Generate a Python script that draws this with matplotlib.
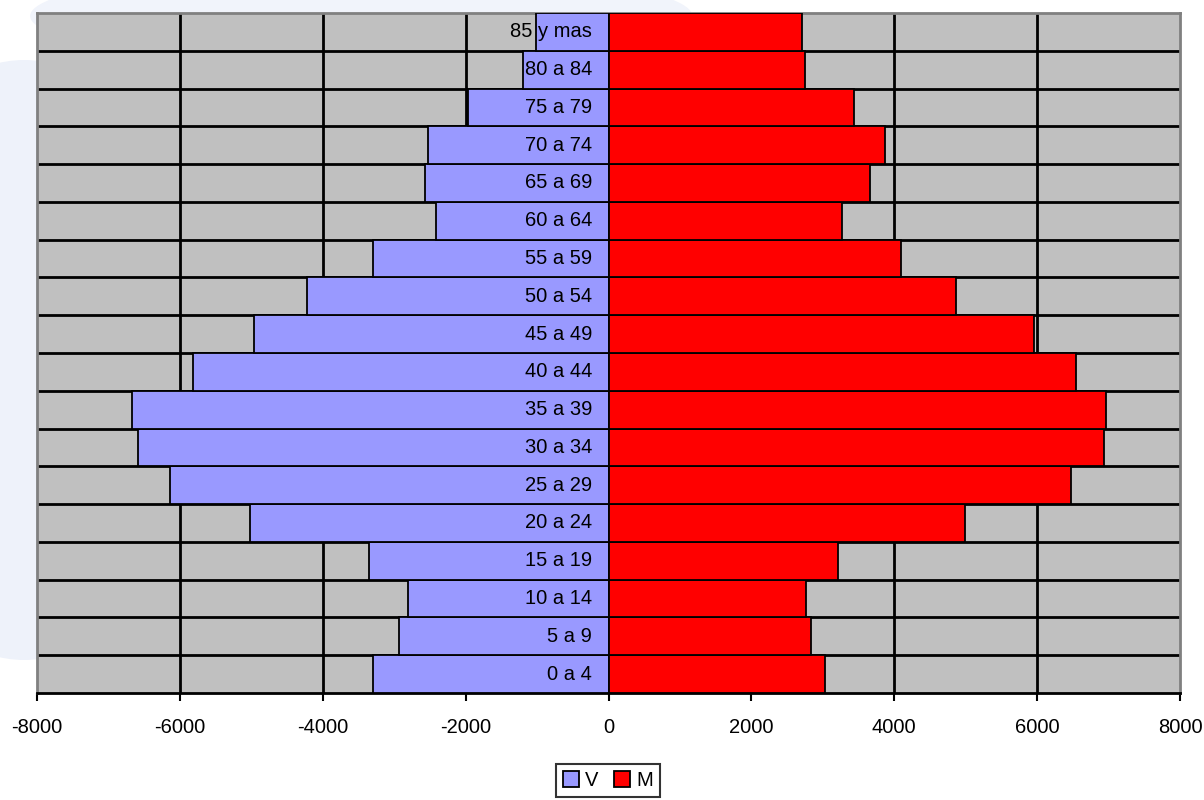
import matplotlib
matplotlib.use("Agg")
import matplotlib.pyplot as plt
from matplotlib.patches import Ellipse
import numpy as np

plt.rcParams['font.family'] = ['Liberation Sans', 'DejaVu Sans']

age_groups = ["0 a 4", "5 a 9", "10 a 14", "15 a 19", "20 a 24", "25 a 29",
              "30 a 34", "35 a 39", "40 a 44", "45 a 49", "50 a 54", "55 a 59",
              "60 a 64", "65 a 69", "70 a 74", "75 a 79", "80 a 84", "85 y mas"]
varones = [-3300, -2935, -2800, -3350, -5020, -6135, -6585, -6670, -5820,
           -4960, -4220, -3300, -2420, -2565, -2525, -1970, -1200, -1015]
mujeres = [3030, 2835, 2770, 3215, 4995, 6470, 6930, 6960, 6540,
           5955, 4860, 4090, 3265, 3665, 3875, 3435, 2750, 2715]
xticks = [-8000, -6000, -4000, -2000, 0, 2000, 4000, 6000, 8000]

fig = plt.figure(figsize=(12.04, 8.0), dpi=100)
# faint watermark shape in the background
fig.patches.append(Ellipse((0.02, 0.55), 0.30, 0.75, transform=fig.transFigure,
                           facecolor="#EEF2FA", edgecolor="none", zorder=-5))
fig.patches.append(Ellipse((0.30, 0.98), 0.55, 0.12, transform=fig.transFigure,
                           facecolor="#F1F4FB", edgecolor="none", zorder=-5))

ax = fig.add_axes([37/1204, 1 - 693/800, (1180 - 37)/1204, (693 - 13)/800])
ax.set_facecolor("#C0C0C0")

y = np.arange(len(age_groups))
ax.barh(y, varones, height=1.0, color="#9999FF", edgecolor="black", linewidth=1.3,
        label="V", zorder=3)
ax.barh(y, mujeres, height=1.0, color="#FF0000", edgecolor="black", linewidth=1.3,
        label="M", zorder=3)

ax.set_xlim(-8000, 8000)
ax.set_ylim(-0.5, len(age_groups) - 0.5)

# grid lines
for xv in xticks[1:-1]:
    if xv != 0:
        ax.axvline(xv, color="black", linewidth=2, zorder=1)
for yb in np.arange(0.5, len(age_groups) - 0.5, 1.0):
    ax.axhline(yb, color="black", linewidth=2, zorder=1)

for i, lab in enumerate(age_groups):
    ax.text(-230, i, lab, ha="right", va="center", fontsize=14.5, zorder=5)

ax.set_xticks(xticks)
ax.set_xticklabels([str(v) for v in xticks], fontsize=14.5)
ax.set_yticks([])
ax.tick_params(axis="x", direction="out", length=6, width=1.5, color="black", pad=12)

for s in ["left", "top", "right"]:
    ax.spines[s].set_color("#808080")
    ax.spines[s].set_linewidth(2)
ax.spines["bottom"].set_color("black")
ax.spines["bottom"].set_linewidth(2)

leg = fig.legend(loc="upper center", bbox_to_anchor=(608/1204, 1 - 764/800), ncol=2,
                 fontsize=14.5, frameon=True, fancybox=False, edgecolor="black",
                 handlelength=0.8, handleheight=0.8, handletextpad=0.3,
                 columnspacing=0.8, borderpad=0.35, borderaxespad=0)
leg.get_frame().set_linewidth(1.5)

fig.savefig("out.png", dpi=100)
